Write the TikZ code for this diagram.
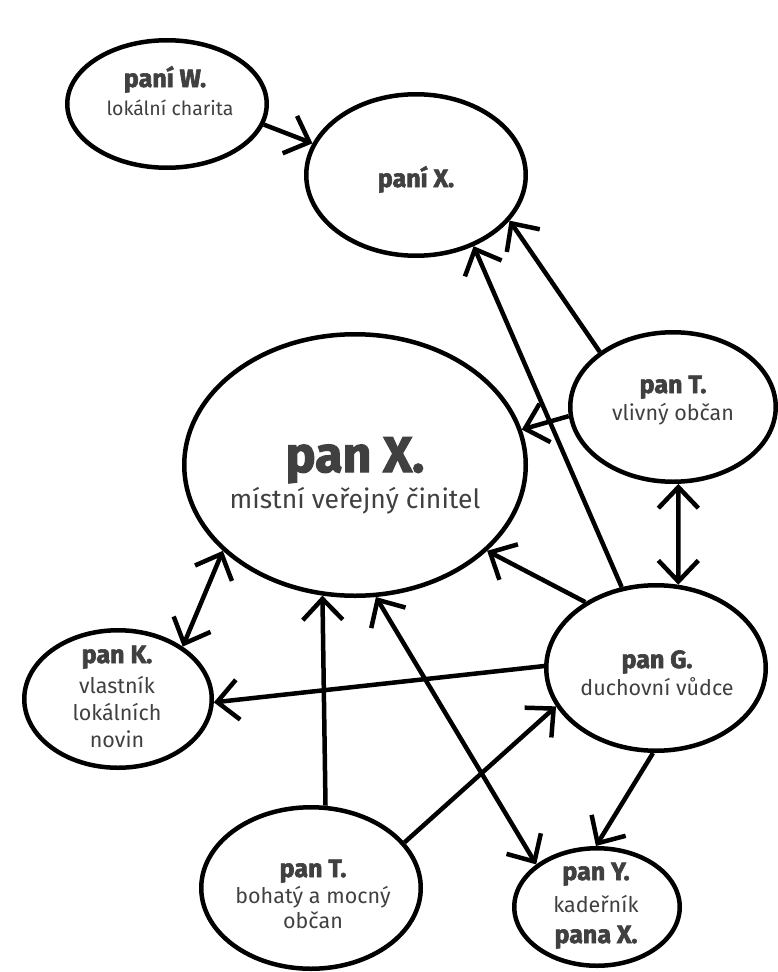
\documentclass[tikz,border=0pt]{standalone}
\usepackage{fontspec}
\setmainfont{Fira Sans}
\newfontfamily\heavyfont{Fira Sans}[BoldFeatures={FakeBold=2.5}]
\usetikzlibrary{arrows.meta,shapes.geometric}
\definecolor{inkgray}{HTML}{404040}

\begin{document}
\begin{tikzpicture}[x=1pt,y=-1pt,
  person/.style={draw=black, line width=4.5pt, ellipse, inner sep=0pt},
  title/.style={anchor=base, text=inkgray, font=\heavyfont\bfseries\fontsize{25}{25}\selectfont},
  bigtitle/.style={anchor=base, text=inkgray, font=\heavyfont\bfseries\fontsize{50}{50}\selectfont},
  role/.style={anchor=base, text=inkgray, font=\fontsize{21.5}{21.5}\selectfont},
  smallrole/.style={role, font=\fontsize{19.5}{19.5}\selectfont},
  bigrole/.style={anchor=base, text=inkgray, font=\fontsize{26.5}{26.5}\selectfont},
  link/.style={line width=4.5pt, -{Straight Barb[length=21pt,width=40pt]}},
  twoway/.style={line width=4.5pt, {Straight Barb[length=21pt,width=40pt]}-{Straight Barb[length=21pt,width=40pt]}}
]
\useasboundingbox (0,0) rectangle (778,972);

% people
\node[person, minimum width=199.5pt, minimum height=127.5pt] (W)  at (167,104) {};
\node[person, minimum width=219.5pt, minimum height=161.5pt] (XF) at (416,175) {};
\node[person, minimum width=341.5pt, minimum height=261.5pt] (X)  at (355,465) {};
\node[person, minimum width=205.5pt, minimum height=149.5pt] (TV) at (673,407) {};
\node[person, minimum width=187.5pt, minimum height=137.5pt] (K)  at (118,699) {};
\node[person, minimum width=219.5pt, minimum height=165.5pt] (G)  at (656,668) {};
\node[person, minimum width=219.5pt, minimum height=161.5pt] (TB) at (311,888) {};
\node[person, minimum width=165.5pt, minimum height=117.5pt] (Y)  at (597,907) {};

% labels
\node[title] (Wa) at (165,87) {paní W.};
\node[smallrole]  (Wb) at (170,115) {lokální charita};
\node[title] (XFa) at (416,187) {paní X.};
\node[bigtitle] (Xa) at (355,472) {pan X.};
\node[bigrole]  (Xb) at (355,508) {místní veřejný činitel};
\node[title] (TVa) at (673,393) {pan T.};
\node[role]  (TVb) at (673,420) {vlivný občan};
\node[title] (Ka) at (117,663) {pan K.};
\node[role]  (Kb) at (117,693) {vlastník};
\node[role]  (Kc) at (117,720) {lokálních};
\node[role]  (Kd) at (117,747) {novin};
\node[title] (Ga) at (657,668) {pan G.};
\node[role]  (Gb) at (657,695) {duchovní vůdce};
\node[title] (TBa) at (313,877) {pan T.};
\node[role]  (TBb) at (313,903) {bohatý a mocný};
\node[role]  (TBc) at (313,928) {občan};
\node[title] (Ya) at (596,880) {pan Y.};
\node[role]  (Yb) at (596,912) {kadeřník};
\node[title] (Yc) at (596,943) {pana X.};

% relations
\draw[link] (W.-12.5) -- (XF.163.5);
\draw[link] (G.113) -- (XF.-51.6);
\draw[link] (TV.143.2) -- (XF.-26);
\draw[link] (TV.-175.6) -- (X.12.7);
\draw[twoway] (TV.-86) -- (G.75.5);
\draw[link] (G.137.1) -- (X.-33.7);
\draw[twoway] (X.-147.6) -- (K.39.7);
\draw[link] (G.179) -- (K.-2.4);
\draw[link] (TB.80.4) -- (X.-104);
\draw[link] (TB.26.6) -- (G.-159);
\draw[twoway] (X.-81.6) -- (Y.145.3);
\draw[link] (G.-92) -- (Y.91);
\end{tikzpicture}
\end{document}
